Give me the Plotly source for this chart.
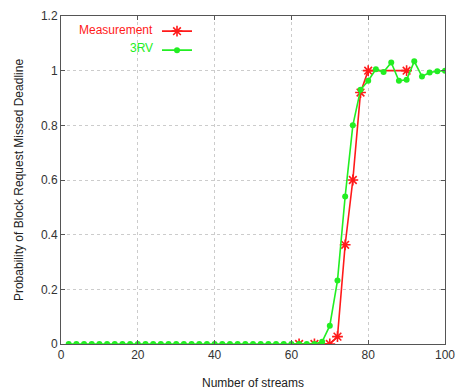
import plotly.graph_objects as go

meas_x = [62, 66, 70, 72, 74, 76, 78, 80, 90]
meas_y = [0.0, 0.0, 0.0, 0.027, 0.363, 0.60, 0.92, 1.0, 1.0]

rv_x = list(range(2, 68, 2)) + [68, 70, 72, 74, 76, 78, 80, 82, 84, 86, 88, 90, 92, 94, 96, 98, 100]
rv_y = [0.0] * 33 + [0.008, 0.067, 0.232, 0.54, 0.80, 0.93, 0.963, 1.005, 0.995, 1.03, 0.963, 0.967, 1.034, 0.979, 0.993, 0.998, 1.0]

x_ticks = [0, 20, 40, 60, 80, 100]
y_ticks = [0, 0.2, 0.4, 0.6, 0.8, 1.0, 1.2]
y_tick_text = ["0", "0.2", "0.4", "0.6", "0.8", "1", "1.2"]

RED = "#ff1a1a"
GREEN = "#22ee22"
FONT = "Liberation Sans, Arial, sans-serif"

fig = go.Figure()
fig.add_trace(go.Scatter(
    x=meas_x, y=meas_y, mode="lines+markers", name=" ",
    line=dict(color=RED, width=1.6),
    marker=dict(symbol="asterisk-open", size=9, color=RED, line=dict(color=RED, width=1.6)),
))
fig.add_trace(go.Scatter(
    x=rv_x, y=rv_y, mode="lines+markers", name=" ",
    line=dict(color=GREEN, width=1.6),
    marker=dict(symbol="circle", size=6, color=GREEN),
))

axis_common = dict(
    showgrid=True, gridcolor="#cccccc", griddash="dot", gridwidth=1,
    showline=True, linecolor="#555555", linewidth=1, mirror="ticks",
    ticks="inside", ticklen=4, tickcolor="#555555",
    zeroline=False, automargin=False,
    tickfont=dict(family=FONT, size=12, color="#333333"),
)

fig.update_layout(
    width=457, height=391,
    margin=dict(l=61, r=12, t=16, b=47),
    paper_bgcolor="white", plot_bgcolor="white",
    xaxis=dict(range=[0, 100], tickvals=x_ticks,
               title=dict(text="Number of streams", standoff=17,
                          font=dict(family=FONT, size=12, color="#222222")),
               **axis_common),
    yaxis=dict(range=[0, 1.2], tickvals=y_ticks, ticktext=y_tick_text,
               title=dict(text="Probability of Block Request Missed Deadline", standoff=14,
                          font=dict(family=FONT, size=12, color="#222222")),
               **axis_common),
    showlegend=True,
    legend=dict(x=0.25, y=0.998, xanchor="left", yanchor="top",
                bgcolor="rgba(0,0,0,0)", borderwidth=0,
                font=dict(family=FONT, size=12),
                tracegroupgap=0, itemwidth=30),
    annotations=[
        dict(text="Measurement", x=0.245, y=0.958, xref="paper", yref="paper",
             xanchor="right", yanchor="middle", showarrow=False,
             font=dict(family=FONT, size=12, color=RED)),
        dict(text="3RV", x=0.245, y=0.903, xref="paper", yref="paper",
             xanchor="right", yanchor="middle", showarrow=False,
             font=dict(family=FONT, size=12, color=GREEN)),
    ],
)

fig.write_html("out.html")
